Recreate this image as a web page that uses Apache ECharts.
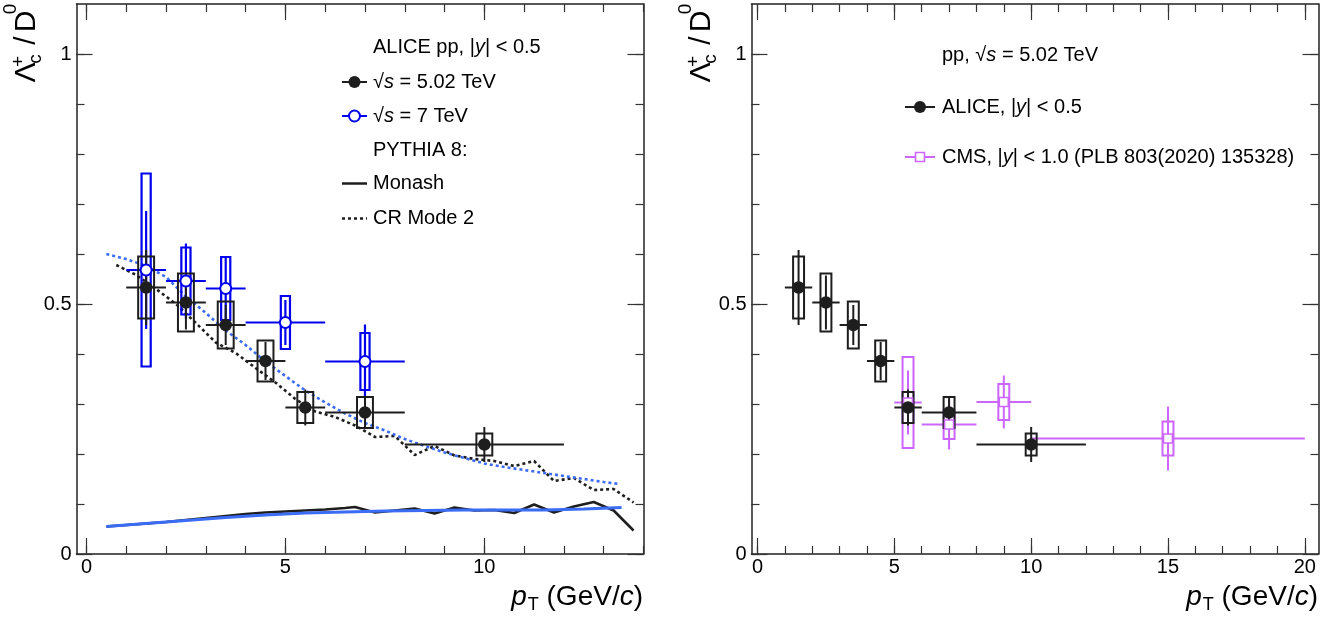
<!DOCTYPE html>
<html><head><meta charset="utf-8">
<script src="https://cdn.jsdelivr.net/npm/echarts@6/dist/echarts.min.js"></script>
<style>html,body{margin:0;padding:0;background:#fff}#c{width:1342px;height:619px}</style>
</head><body><div id="c"></div>
<script>
// ---------- DATA ----------
// ALICE pp sqrt(s)=5.02 TeV
const aliceX    = [1.5, 2.5, 3.5, 4.5, 5.5, 7, 10];
const aliceXlo  = [1, 2, 3, 4, 5, 6, 8];
const aliceXhi  = [2, 3, 4, 5, 6, 8, 12];
const aliceY    = [0.533, 0.503, 0.458, 0.386, 0.293, 0.283, 0.219];
const aliceStat = [0.075, 0.054, 0.040, 0.038, 0.036, 0.030, 0.035];
const aliceSys  = [0.062, 0.058, 0.047, 0.041, 0.031, 0.031, 0.022];
// ALICE pp sqrt(s)=7 TeV
const a7X    = [1.5, 2.5, 3.5, 5, 7];
const a7Xlo  = [1, 2, 3, 4, 6];
const a7Xhi  = [2, 3, 4, 6, 8];
const a7Y    = [0.568, 0.546, 0.531, 0.463, 0.385];
const a7Stat = [0.118, 0.075, 0.065, 0.045, 0.074];
const a7Sys  = [0.193, 0.067, 0.063, 0.053, 0.057];
// CMS |y|<1.0
const cmsX    = [5.5, 7, 9, 15];
const cmsXlo  = [5, 6, 8, 10];
const cmsXhi  = [6, 8, 10, 20];
const cmsY    = [0.303, 0.259, 0.304, 0.231];
const cmsStat = [0.064, 0.050, 0.053, 0.064];
const cmsSys  = [0.091, 0.029, 0.036, 0.034];
// PYTHIA 8 Monash (5.02 TeV, black)
const monashBlkX = [0.5, 1.0, 1.5, 2.0, 2.5, 3.0, 3.5, 4.0, 4.5, 5.0, 5.5, 6.0, 6.5, 6.75, 7.25, 7.75, 8.25, 8.75, 9.25, 9.75, 10.25, 10.75, 11.25, 11.75, 12.25, 12.75, 13.25, 13.75];
const monashBlkY = [0.055, 0.058, 0.061, 0.064, 0.068, 0.072, 0.076, 0.080, 0.083, 0.085, 0.087, 0.089, 0.092, 0.094, 0.083, 0.087, 0.091, 0.081, 0.093, 0.087, 0.088, 0.082, 0.099, 0.083, 0.095, 0.104, 0.087, 0.047];
// PYTHIA 8 Monash (7 TeV, blue)
const monashBluX = [0.5, 1.5, 2.5, 3.5, 4.5, 5.5, 6.5, 7.5, 8.5, 9.5, 10.5, 11.5, 12.5, 13.45];
const monashBluY = [0.055, 0.061, 0.067, 0.073, 0.078, 0.082, 0.084, 0.086, 0.087, 0.088, 0.088, 0.088, 0.090, 0.093];
// PYTHIA 8 CR Mode 2 (5.02 TeV, black dotted)
const crBlkX = [0.75, 1.25, 1.75, 2.25, 2.75, 3.25, 3.75, 4.25, 4.75, 5.25, 5.75, 6.25, 6.75, 7.25, 7.75, 8.25, 8.75, 9.25, 9.75, 10.25, 10.75, 11.25, 11.75, 12.25, 12.75, 13.25, 13.75];
const crBlkY = [0.578, 0.558, 0.530, 0.500, 0.462, 0.423, 0.402, 0.372, 0.343, 0.310, 0.285, 0.274, 0.257, 0.234, 0.236, 0.198, 0.216, 0.197, 0.190, 0.186, 0.176, 0.186, 0.146, 0.152, 0.128, 0.130, 0.103];
// PYTHIA 8 CR Mode 2 (7 TeV, blue dotted)
const crBluX = [0.5, 1.0, 1.5, 2.0, 2.5, 3.0, 3.5, 4.0, 4.5, 5.0, 5.5, 6.0, 6.5, 7.0, 7.5, 8.0, 8.5, 9.0, 9.5, 10.0, 10.5, 11.0, 11.5, 12.0, 12.5, 13.0, 13.4];
const crBluY = [0.600, 0.590, 0.576, 0.554, 0.515, 0.482, 0.447, 0.418, 0.385, 0.356, 0.327, 0.303, 0.281, 0.262, 0.247, 0.230, 0.216, 0.203, 0.192, 0.181, 0.174, 0.168, 0.162, 0.156, 0.150, 0.144, 0.140];
// Axis ticks
const xMajorL = [0, 5, 10];
const xMinorL = [0, 1, 2, 3, 4, 5, 6, 7, 8, 9, 10, 11, 12, 13, 14];
const xMajorR = [0, 5, 10, 15, 20];
const xMinorR = [0, 1, 2, 3, 4, 5, 6, 7, 8, 9, 10, 11, 12, 13, 14, 15, 16, 17, 18, 19, 20];
const yMajor = [0, 0.5, 1];
const yMinor = [0, 0.1, 0.2, 0.3, 0.4, 0.5, 0.6, 0.7, 0.8, 0.9, 1.0];

// ---------- STYLE ----------
const FONT = '"Liberation Sans", Arial, Helvetica, sans-serif';
const BLACK = '#1e1e1e';
const BLUE7 = '#0000ee';
const PYBLUE = '#3b6cf5';
const MAG = '#cc66ff';

function axis(kind, gridIndex, position, min, max, ticks, len, labels, lineShow) {
  return {
    type: 'value', gridIndex, position, min, max,
    axisLine: {show: lineShow, onZero: false, lineStyle: {color: '#222', width: 1.5}},
    axisTick: {show: true, inside: true, length: len, customValues: ticks, lineStyle: {color: '#333', width: 1.2}},
    axisLabel: labels ? {show: true, customValues: labels, fontSize: 20, fontFamily: FONT, color: '#000', margin: kind === 'x' ? 3 : 5} : {show: false},
    splitLine: {show: false}, minorTick: {show: false}, minorSplitLine: {show: false}
  };
}

const xAxes = [
  axis('x', 0, 'bottom', -0.25, 14, xMajorL, 16, xMajorL, true),
  axis('x', 0, 'bottom', -0.25, 14, xMinorL, 8, null, false),
  axis('x', 0, 'top', -0.25, 14, xMajorL, 16, null, true),
  axis('x', 0, 'top', -0.25, 14, xMinorL, 8, null, false),
  axis('x', 1, 'bottom', -0.22, 20.5, xMajorR, 16, xMajorR, true),
  axis('x', 1, 'bottom', -0.22, 20.5, xMinorR, 8, null, false),
  axis('x', 1, 'top', -0.22, 20.5, xMajorR, 16, null, true),
  axis('x', 1, 'top', -0.22, 20.5, xMinorR, 8, null, false)
];
const yAxes = [
  axis('y', 0, 'left', 0, 1.1, yMajor, 16, yMajor, true),
  axis('y', 0, 'left', 0, 1.1, yMinor, 8, null, false),
  axis('y', 0, 'right', 0, 1.1, yMajor, 16, null, true),
  axis('y', 0, 'right', 0, 1.1, yMinor, 8, null, false),
  axis('y', 1, 'left', 0, 1.1, yMajor, 16, yMajor, true),
  axis('y', 1, 'left', 0, 1.1, yMinor, 8, null, false),
  axis('y', 1, 'right', 0, 1.1, yMajor, 16, null, true),
  axis('y', 1, 'right', 0, 1.1, yMinor, 8, null, false)
];

function errSeries(ax, xs, ys, lo, hi, st, sy, color, lw, boxHalf) {
  return {
    type: 'custom', xAxisIndex: ax, yAxisIndex: ax, clip: false, z: 3,
    encode: {x: 0, y: 1},
    data: xs.map((x, i) => [x, ys[i], lo[i], hi[i], st[i], sy[i]]),
    renderItem: function (params, api) {
      const x = api.value(0), y = api.value(1), xl = api.value(2), xh = api.value(3), s = api.value(4), b = api.value(5);
      const pl = api.coord([xl, y]), pr = api.coord([xh, y]);
      const pt = api.coord([x, y + s]), pb = api.coord([x, y - s]);
      const bt = api.coord([x - boxHalf, y + b]), bb = api.coord([x + boxHalf, y - b]);
      const ls = {stroke: color, lineWidth: lw, fill: null};
      return {type: 'group', children: [
        {type: 'rect', shape: {x: bt[0], y: bt[1], width: bb[0] - bt[0], height: bb[1] - bt[1]}, style: {stroke: color, lineWidth: lw, fill: 'none'}},
        {type: 'line', shape: {x1: pl[0], y1: pl[1], x2: pr[0], y2: pr[1]}, style: ls},
        {type: 'line', shape: {x1: pt[0], y1: pt[1], x2: pb[0], y2: pb[1]}, style: ls}
      ]};
    }
  };
}
function markers(ax, xs, ys, symbol, size, fill, border, bw) {
  return {
    type: 'scatter', xAxisIndex: ax, yAxisIndex: ax, z: 4, symbol, symbolSize: size,
    itemStyle: {color: fill, borderColor: border, borderWidth: bw, opacity: 1},
    data: xs.map((x, i) => [x, ys[i]])
  };
}
function curve(xs, ys, color, type, w) {
  return {
    type: 'line', xAxisIndex: 0, yAxisIndex: 0, showSymbol: false, symbol: 'none', z: 2,
    lineStyle: {color, type, width: w}, data: xs.map((x, i) => [x, ys[i]])
  };
}

const series = [
  curve(monashBlkX, monashBlkY, BLACK, 'solid', 2.5),
  curve(monashBluX, monashBluY, PYBLUE, 'solid', 3),
  curve(crBlkX, crBlkY, BLACK, [3, 3], 2.6),
  curve(crBluX, crBluY, PYBLUE, [3, 3], 2.6),
  errSeries(0, a7X, a7Y, a7Xlo, a7Xhi, a7Stat, a7Sys, BLUE7, 2.2, 0.115),
  markers(0, a7X, a7Y, 'circle', 11, '#fff', BLUE7, 2),
  errSeries(0, aliceX, aliceY, aliceXlo, aliceXhi, aliceStat, aliceSys, BLACK, 2, 0.2),
  markers(0, aliceX, aliceY, 'circle', 12.5, BLACK, BLACK, 0),
  errSeries(4, cmsX, cmsY, cmsXlo, cmsXhi, cmsStat, cmsSys, MAG, 2, 0.2),
  markers(4, cmsX, cmsY, 'rect', 9, '#fff', MAG, 1.6),
  errSeries(4, aliceX, aliceY, aliceXlo, aliceXhi, aliceStat, aliceSys, BLACK, 2, 0.2),
  markers(4, aliceX, aliceY, 'circle', 12.5, BLACK, BLACK, 0)
];

// ---------- TEXT / LEGENDS ----------
const richBase = {
  i: {fontStyle: 'italic', fontSize: 20, fontFamily: FONT, fill: '#000'}
};
function ltext(x, y, t) {
  return {type: 'text', x, y, z: 10, style: {text: t, fontSize: 20, fontFamily: FONT, fill: '#000', align: 'left', verticalAlign: 'middle', rich: richBase}};
}
function xTitle(xr) {
  return {type: 'text', x: xr, y: 597, z: 10, style: {
    text: '{p|p}{t|T}{n| (GeV/}{c|c}{n|)}', align: 'right', verticalAlign: 'middle',
    rich: {
      p: {fontSize: 28, fontStyle: 'italic', fontFamily: FONT, fill: '#000', lineHeight: 34},
      t: {fontSize: 18, fontFamily: FONT, fill: '#000', lineHeight: 12, verticalAlign: 'bottom', padding: [0, 0, 0, 1]},
      n: {fontSize: 28, fontFamily: FONT, fill: '#000', lineHeight: 34},
      c: {fontSize: 28, fontStyle: 'italic', fontFamily: FONT, fill: '#000', lineHeight: 34}
    }
  }};
}
function yTitle(dx) {
  const R = Math.PI / 2;
  const t = (x, y, s, fs) => ({type: 'text', x: x + dx, y, rotation: R, z: 10,
    style: {text: s, fontSize: fs, fontFamily: FONT, fill: '#000', align: 'center', verticalAlign: 'middle'}});
  return [
    t(27, 72.5, 'Λ', 30), t(36, 59, 'c', 19), t(19, 61.5, '+', 19),
    t(27, 40.5, '/', 30), t(26.5, 21.5, 'D', 30), t(10.5, 9, '0', 19)
  ];
}
function segLine(x1, x2, y, color, w, dash) {
  return {type: 'line', z: 10, shape: {x1, y1: y, x2, y2: y}, style: {stroke: color, lineWidth: w, lineDash: dash || null}};
}
const graphics = [
  xTitle(643), xTitle(1318),
  ...yTitle(0), ...yTitle(675),
  // left legend
  ltext(373, 47, 'ALICE pp, |{i|y}| < 0.5'),
  segLine(342, 367, 82, BLACK, 2), {type: 'circle', z: 11, shape: {cx: 354.5, cy: 82, r: 6}, style: {fill: BLACK}},
  ltext(373, 82, '√{i|s} = 5.02 TeV'),
  segLine(342, 367, 116, BLUE7, 2), {type: 'circle', z: 11, shape: {cx: 354.5, cy: 116, r: 5.5}, style: {fill: '#fff', stroke: BLUE7, lineWidth: 2}},
  ltext(373, 116, '√{i|s} = 7 TeV'),
  ltext(373, 150, 'PYTHIA 8:'),
  segLine(342, 367, 183.5, BLACK, 2.5),
  ltext(373, 183.5, 'Monash'),
  segLine(342, 367, 218.5, BLACK, 2.6, [3, 3]),
  ltext(373, 218.5, 'CR Mode 2'),
  // right legend
  ltext(942, 55, 'pp, √{i|s} = 5.02 TeV'),
  segLine(905, 935, 107, BLACK, 2), {type: 'circle', z: 11, shape: {cx: 920, cy: 107, r: 6}, style: {fill: BLACK}},
  ltext(942, 107, 'ALICE, |{i|y}| < 0.5'),
  segLine(905, 935, 157, MAG, 2), {type: 'rect', z: 11, shape: {x: 915.5, y: 152.5, width: 9, height: 9}, style: {fill: '#fff', stroke: MAG, lineWidth: 1.6}},
  ltext(942, 157, 'CMS, |{i|y}| < 1.0 (PLB 803(2020) 135328)')
];

const chart = echarts.init(document.getElementById('c'));
chart.setOption({
  animation: false,
  backgroundColor: '#fff',
  grid: [
    {left: 76.5, top: 4, width: 567, height: 550},
    {left: 751.5, top: 4, width: 567, height: 550}
  ],
  xAxis: xAxes,
  yAxis: yAxes,
  series,
  graphic: graphics
});
</script></body></html>
